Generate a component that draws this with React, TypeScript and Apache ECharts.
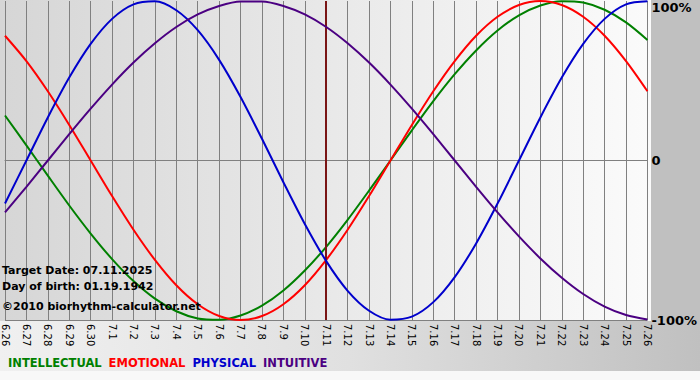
import React, { useEffect, useRef } from "react";
import * as echarts from "echarts";

const days = [
  "6.26", "6.27", "6.28", "6.29", "6.30", "7.1", "7.2", "7.3", "7.4", "7.5", "7.6",
  "7.7", "7.8", "7.9", "7.10", "7.11", "7.12", "7.13", "7.14", "7.15", "7.16",
  "7.17", "7.18", "7.19", "7.20", "7.21", "7.22", "7.23", "7.24", "7.25", "7.26",
];

const intellectual = [
  28.2, 9.5, -9.5, -28.2, -45.8, -61.8, -75.6, -86.6, -94.5, -99.0, -99.9, -97.2, -91.0,
  -81.5, -69.0, -54.1, -37.2, -18.9, 0, 18.9, 37.2, 54.1, 69.0, 81.5, 91.0, 97.2, 99.9,
  99.0, 94.5, 86.6, 75.6,
];
const emotional = [
  78.2, 62.3, 43.4, 22.3, 0, -22.3, -43.4, -62.3, -78.2, -90.1, -97.5, -100, -97.5, -90.1,
  -78.2, -62.3, -43.4, -22.3, 0, 22.3, 43.4, 62.3, 78.2, 90.1, 97.5, 100, 97.5, 90.1, 78.2,
  62.3, 43.4,
];
const physical = [
  -27.0, 0, 27.0, 52.0, 73.1, 88.8, 97.9, 99.8, 94.2, 81.7, 63.1, 39.8, 13.6, -13.6, -39.8,
  -63.1, -81.7, -94.2, -99.8, -97.9, -88.8, -73.1, -52.0, -27.0, 0, 27.0, 52.0, 73.1, 88.8,
  97.9, 99.8,
];
const intuitive = [
  -32.5, -16.5, 0, 16.5, 32.5, 47.6, 61.4, 73.5, 83.7, 91.6, 96.9, 99.7, 99.7, 96.9, 91.6,
  83.7, 73.5, 61.4, 47.6, 32.5, 16.5, 0, -16.5, -32.5, -47.6, -61.4, -73.5, -83.7, -91.6,
  -96.9, -99.7,
];

const seriesNames = ["INTELLECTUAL", "EMOTIONAL", "PHYSICAL", "INTUITIVE"];
const seriesColors = ["#008000", "#ff0000", "#0000cc", "#4b0082"];
const targetDay = "7.11";
const infoLines = [
  "Target Date: 07.11.2025",
  "Day of birth: 01.19.1942",
  "©2010 biorhythm-calculator.net",
];

const FONT = "'DejaVu Sans', Verdana, sans-serif";

export default function App() {
  const ref = useRef<HTMLDivElement>(null);
  useEffect(() => {
    if (!ref.current) return;
    const chart = echarts.init(ref.current, null, { renderer: "svg", width: 700, height: 380 });
    const values = [intellectual, emotional, physical, intuitive];
    const option: any = {
      animation: false,
      backgroundColor: "#f8f8f8",
      textStyle: { fontFamily: FONT },
      grid: { left: 0, right: 49, top: 1, bottom: 60, containLabel: false },
      legend: {
        left: -2,
        top: 352,
        icon: "none",
        itemWidth: 0,
        itemHeight: 10,
        itemGap: 2,
        selectedMode: false,
        data: seriesNames.map((n, i) => ({
          name: n,
          textStyle: { color: seriesColors[i], fontWeight: "bold", fontSize: 11.5, fontFamily: FONT },
        })),
      },
      graphic: [
        {
          type: "rect",
          z: -10,
          shape: { x: 0, y: 0, width: 651, height: 321 },
          style: {
            fill: {
              type: "linear", x: 0, y: 0, x2: 1, y2: 0,
              colorStops: [
                { offset: 0, color: "#d6d6d6" },
                { offset: 1, color: "#fbfbfb" },
              ],
            },
          },
        },
        {
          type: "rect",
          z: -10,
          shape: { x: 651, y: 0, width: 49, height: 321 },
          style: { fill: "#c0c0c0" },
        },
        {
          type: "rect",
          z: -10,
          shape: { x: 0, y: 321, width: 700, height: 50 },
          style: {
            fill: {
              type: "linear", x: 0, y: 0, x2: 1, y2: 0,
              colorStops: [
                { offset: 0, color: "#f0f0f0" },
                { offset: 0.5, color: "#e0e0e0" },
                { offset: 1, color: "#c0c0c0" },
              ],
            },
          },
        },
        ...infoLines.map((t, i) => ({
          type: "text",
          z: 100,
          left: 2,
          top: [265, 281, 301][i],
          style: {
            text: t,
            fill: "#000",
            font: `bold 11px ${FONT}`,
          },
        })),
      ],
      xAxis: {
        type: "category",
        data: days,
        boundaryGap: false,
        axisLine: { show: true, lineStyle: { color: "#808080", width: 1 } },
        axisTick: { show: true, length: 3, interval: 0, lineStyle: { color: "#808080" } },
        axisLabel: {
          interval: 0,
          rotate: -90,
          margin: 4,
          fontSize: 10,
          color: "#000",
          fontFamily: FONT,
        },
        splitLine: { show: true, interval: 0, lineStyle: { color: "#808080", width: 1 } },
      },
      yAxis: {
        type: "value",
        position: "right",
        min: -100,
        max: 100,
        interval: 100,
        axisLine: { show: false },
        axisTick: { show: false },
        splitLine: {
          show: true,
          lineStyle: { color: ["#808080", "#808080", "rgba(0,0,0,0)"], width: 1 },
        },
        axisLabel: {
          margin: 4,
          fontSize: 13,
          fontWeight: "bold",
          color: "#000",
          fontFamily: FONT,
          formatter: (v: number) => (v === 100 ? "{t|100%}" : v === 0 ? "0" : v + "%"),
          rich: {
            t: { padding: [12, 0, 0, 0], fontSize: 13, fontWeight: "bold", color: "#000", fontFamily: FONT },
          },
        },
      },
      series: seriesNames.map((n, i) => ({
        name: n,
        type: "line",
        data: values[i],
        smooth: 0.3,
        showSymbol: false,
        symbol: "none",
        lineStyle: { color: seriesColors[i], width: 2 },
        itemStyle: { color: seriesColors[i] },
        z: 3 + i,
        ...(i === 3
          ? {
              markLine: {
                silent: true,
                symbol: ["none", "none"],
                label: { show: false },
                lineStyle: { color: "#7a1515", width: 2, type: "solid" },
                data: [{ xAxis: targetDay }],
              },
            }
          : {}),
      })),
    };
    chart.setOption(option);
    return () => chart.dispose();
  }, []);
  return <div ref={ref} style={{ position: "fixed", left: 0, top: 0, width: 700, height: 380 }} />;
}
